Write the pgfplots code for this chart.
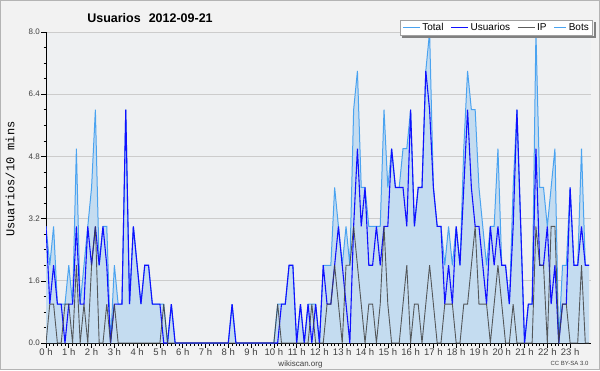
\documentclass[border=0pt]{standalone}
\usepackage{fontspec}
\setmainfont{Liberation Sans}
\setmonofont{Liberation Mono}
\usepackage{pgfplots}
\pgfplotsset{compat=1.18}
\usepackage{pgfplotstable}
\definecolor{bgcol}{HTML}{F2F2F2}
\definecolor{bordercol}{HTML}{B4B4B4}
\definecolor{plotbg}{HTML}{EEF0F2}
\definecolor{gridcol}{HTML}{CCCCCC}
\definecolor{totalline}{HTML}{4AA3F0}
\definecolor{totalfill}{HTML}{C4DCF0}
\definecolor{usucol}{HTML}{1010FF}
\definecolor{ipcol}{HTML}{404040}
\definecolor{botscol}{HTML}{FFA500}
\definecolor{legborder}{HTML}{A0A0A0}
\definecolor{shadowcol}{HTML}{808080}
\definecolor{textgray}{HTML}{404040}

\pgfplotstableread{
i total usu ip
0 3 3 0
1 2 1 1
2 3 2 1
3 1 1 0
4 1 1 0
5 1 0 1
6 2 1 1
7 1 1 0
8 5 3 2
9 1 1 0
10 2 1 1
11 3 3 0
12 4 2 2
13 6 3 3
14 2 2 0
15 3 3 0
16 3 2 1
17 0 0 0
18 2 1 1
19 1 1 0
20 1 1 0
21 6 6 0
22 1 1 0
23 3 3 0
24 2 2 0
25 1 1 0
26 2 2 0
27 2 2 0
28 1 1 0
29 1 1 0
30 1 1 0
31 1 0 1
32 0 0 0
33 1 1 0
34 0 0 0
35 0 0 0
36 0 0 0
37 0 0 0
38 0 0 0
39 0 0 0
40 0 0 0
41 0 0 0
42 0 0 0
43 0 0 0
44 0 0 0
45 0 0 0
46 0 0 0
47 0 0 0
48 0 0 0
49 1 1 0
50 0 0 0
51 0 0 0
52 0 0 0
53 0 0 0
54 0 0 0
55 0 0 0
56 0 0 0
57 0 0 0
58 0 0 0
59 0 0 0
60 0 0 0
61 1 0 1
62 1 1 0
63 1 1 0
64 2 2 0
65 2 2 0
66 0 0 0
67 1 1 0
68 0 0 0
69 1 1 0
70 1 0 1
71 1 1 0
72 0 0 0
73 2 2 0
74 2 1 1
75 2 1 1
76 4 2 2
77 3 3 1
78 2 2 0
79 3 1 2
80 2 0 2
81 6 3 3
82 7 5 2
83 4 3 1
84 4 4 0
85 3 2 1
86 3 2 1
87 3 3 0
88 3 2 1
89 6 3 3
90 4 3 1
91 5 5 0
92 4 4 0
93 4 4 0
94 5 4 1
95 5 3 2
96 6 6 0
97 3 3 1
98 4 4 1
99 4 4 0
100 7 7 1
101 8 6 2
102 4 4 1
103 3 3 0
104 3 3 0
105 2 1 1
106 3 2 1
107 2 1 1
108 3 3 0
109 2 2 0
110 5 4 1
111 7 6 1
112 6 4 2
113 6 3 3
114 4 3 1
115 3 2 1
116 2 1 1
117 3 3 0
118 3 2 1
119 5 3 2
120 2 2 1
121 2 2 0
122 1 1 0
123 4 3 1
124 6 6 0
125 3 3 0
126 0 0 0
127 1 1 0
128 1 1 0
129 8 5 3
130 4 2 2
131 4 2 2
132 3 3 0
133 4 1 3
134 5 2 3
135 0 0 0
136 2 1 1
137 2 1 1
138 4 4 0
139 2 2 0
140 2 2 0
141 5 3 2
142 2 2 0
143 2 2 0
}\data

\begin{document}
\begin{tikzpicture}[x=1pt,y=1pt]
\path[use as bounding box] (0,0) rectangle (600,370);
\fill[bgcol] (0,0) rectangle (600,370);
\draw[bordercol, line width=1pt] (0.5,0.5) rectangle (599.5,369.5);
\begin{axis}[
  at={(46pt,27pt)}, anchor=south west,
  scale only axis, width=545pt, height=311pt,
  xmin=0, xmax=143.5, ymin=0, ymax=8,
  axis x line=bottom, axis y line=left,
  axis line style={-, black, line width=0.8pt},
  every outer x axis line/.append style={-},
  every outer y axis line/.append style={-},
  axis background/.style={fill=plotbg},
  xtick={0,6,...,138},
  xticklabels={0 h,1 h,2 h,3 h,4 h,5 h,6 h,7 h,8 h,9 h,10 h,11 h,12 h,13 h,14 h,15 h,16 h,17 h,18 h,19 h,20 h,21 h,22 h,23 h},
  minor x tick num=5,
  ytick={0,1.6,3.2,4.8,6.4,8},
  minor y tick num=3,
  tick align=outside,
  xtick pos=left, ytick pos=left,
  major tick length=4.5pt, minor tick length=2.5pt,
  tick style={black, line width=0.6pt},
  ymajorgrids, grid style={gridcol, line width=0.8pt},
  x tick label style={font=\fontsize{9.5}{10}\selectfont, text=textgray, inner sep=0.5pt},
  y tick label style={font=\fontsize{8}{9}\selectfont, text=textgray, inner sep=1.5pt},
  yticklabel style={/pgf/number format/.cd, fixed, fixed zerofill, precision=1, assume math mode=true},
  legend style={name=leg, at={(1.004,1.039)}, anchor=north east, draw=legborder, fill=white, line width=0.8pt,
    font=\fontsize{10}{11}\selectfont, inner xsep=2pt, inner ysep=1pt,
    /tikz/every even column/.append style={column sep=5pt}},
  legend columns=4,
]
\addplot[fill=totalfill, draw=none, forget plot] table[x=i, y=total] {\data} \closedcycle;
\addplot[color=totalline, line width=1pt] table[x=i, y=total] {\data};
\addplot[color=usucol, line width=1.1pt] table[x=i, y=usu] {\data};
\addplot[color=ipcol, line width=0.9pt, opacity=0.85] table[x=i, y=ip] {\data};
\addlegendimage{legend image code/.code={\draw[totalline, line width=1.2pt] (0pt,0pt) -- (12pt,0pt);}}
\addlegendentry{Total}
\addlegendimage{legend image code/.code={\draw[usucol, line width=1.2pt] (0pt,0pt) -- (12pt,0pt);}}
\addlegendentry{Usuarios}
\addlegendimage{legend image code/.code={\draw[ipcol, line width=1.2pt] (0pt,0pt) -- (12pt,0pt);}}
\addlegendentry{IP}
\addlegendimage{legend image code/.code={\draw[botscol, line width=1.2pt] (0pt,0pt) -- (12pt,0pt);}}
\addlegendentry{Bots}
\end{axis}
\fill[shadowcol] ([xshift=0.4pt]leg.north east) ++(0,-2.5) rectangle ([xshift=3pt,yshift=-3pt]leg.south east);
\fill[shadowcol] ([xshift=2.5pt,yshift=-0.4pt]leg.south west) rectangle ([xshift=3pt,yshift=-3pt]leg.south east);
\node[font=\bfseries\fontsize{12.5}{14}\selectfont] at (150,352) {Usuarios\hspace{8pt}2012-09-21};
\node[rotate=90, font=\ttfamily\fontsize{12}{13}\selectfont] at (10,191) {Usuarios/10 mins};
\node[font=\fontsize{8}{9}\selectfont, text=textgray] at (300.5,6) {wikiscan.org};
\node[font=\fontsize{6}{7}\selectfont, text=textgray] at (569.5,7) {CC BY-SA 3.0};
\end{tikzpicture}
\end{document}
